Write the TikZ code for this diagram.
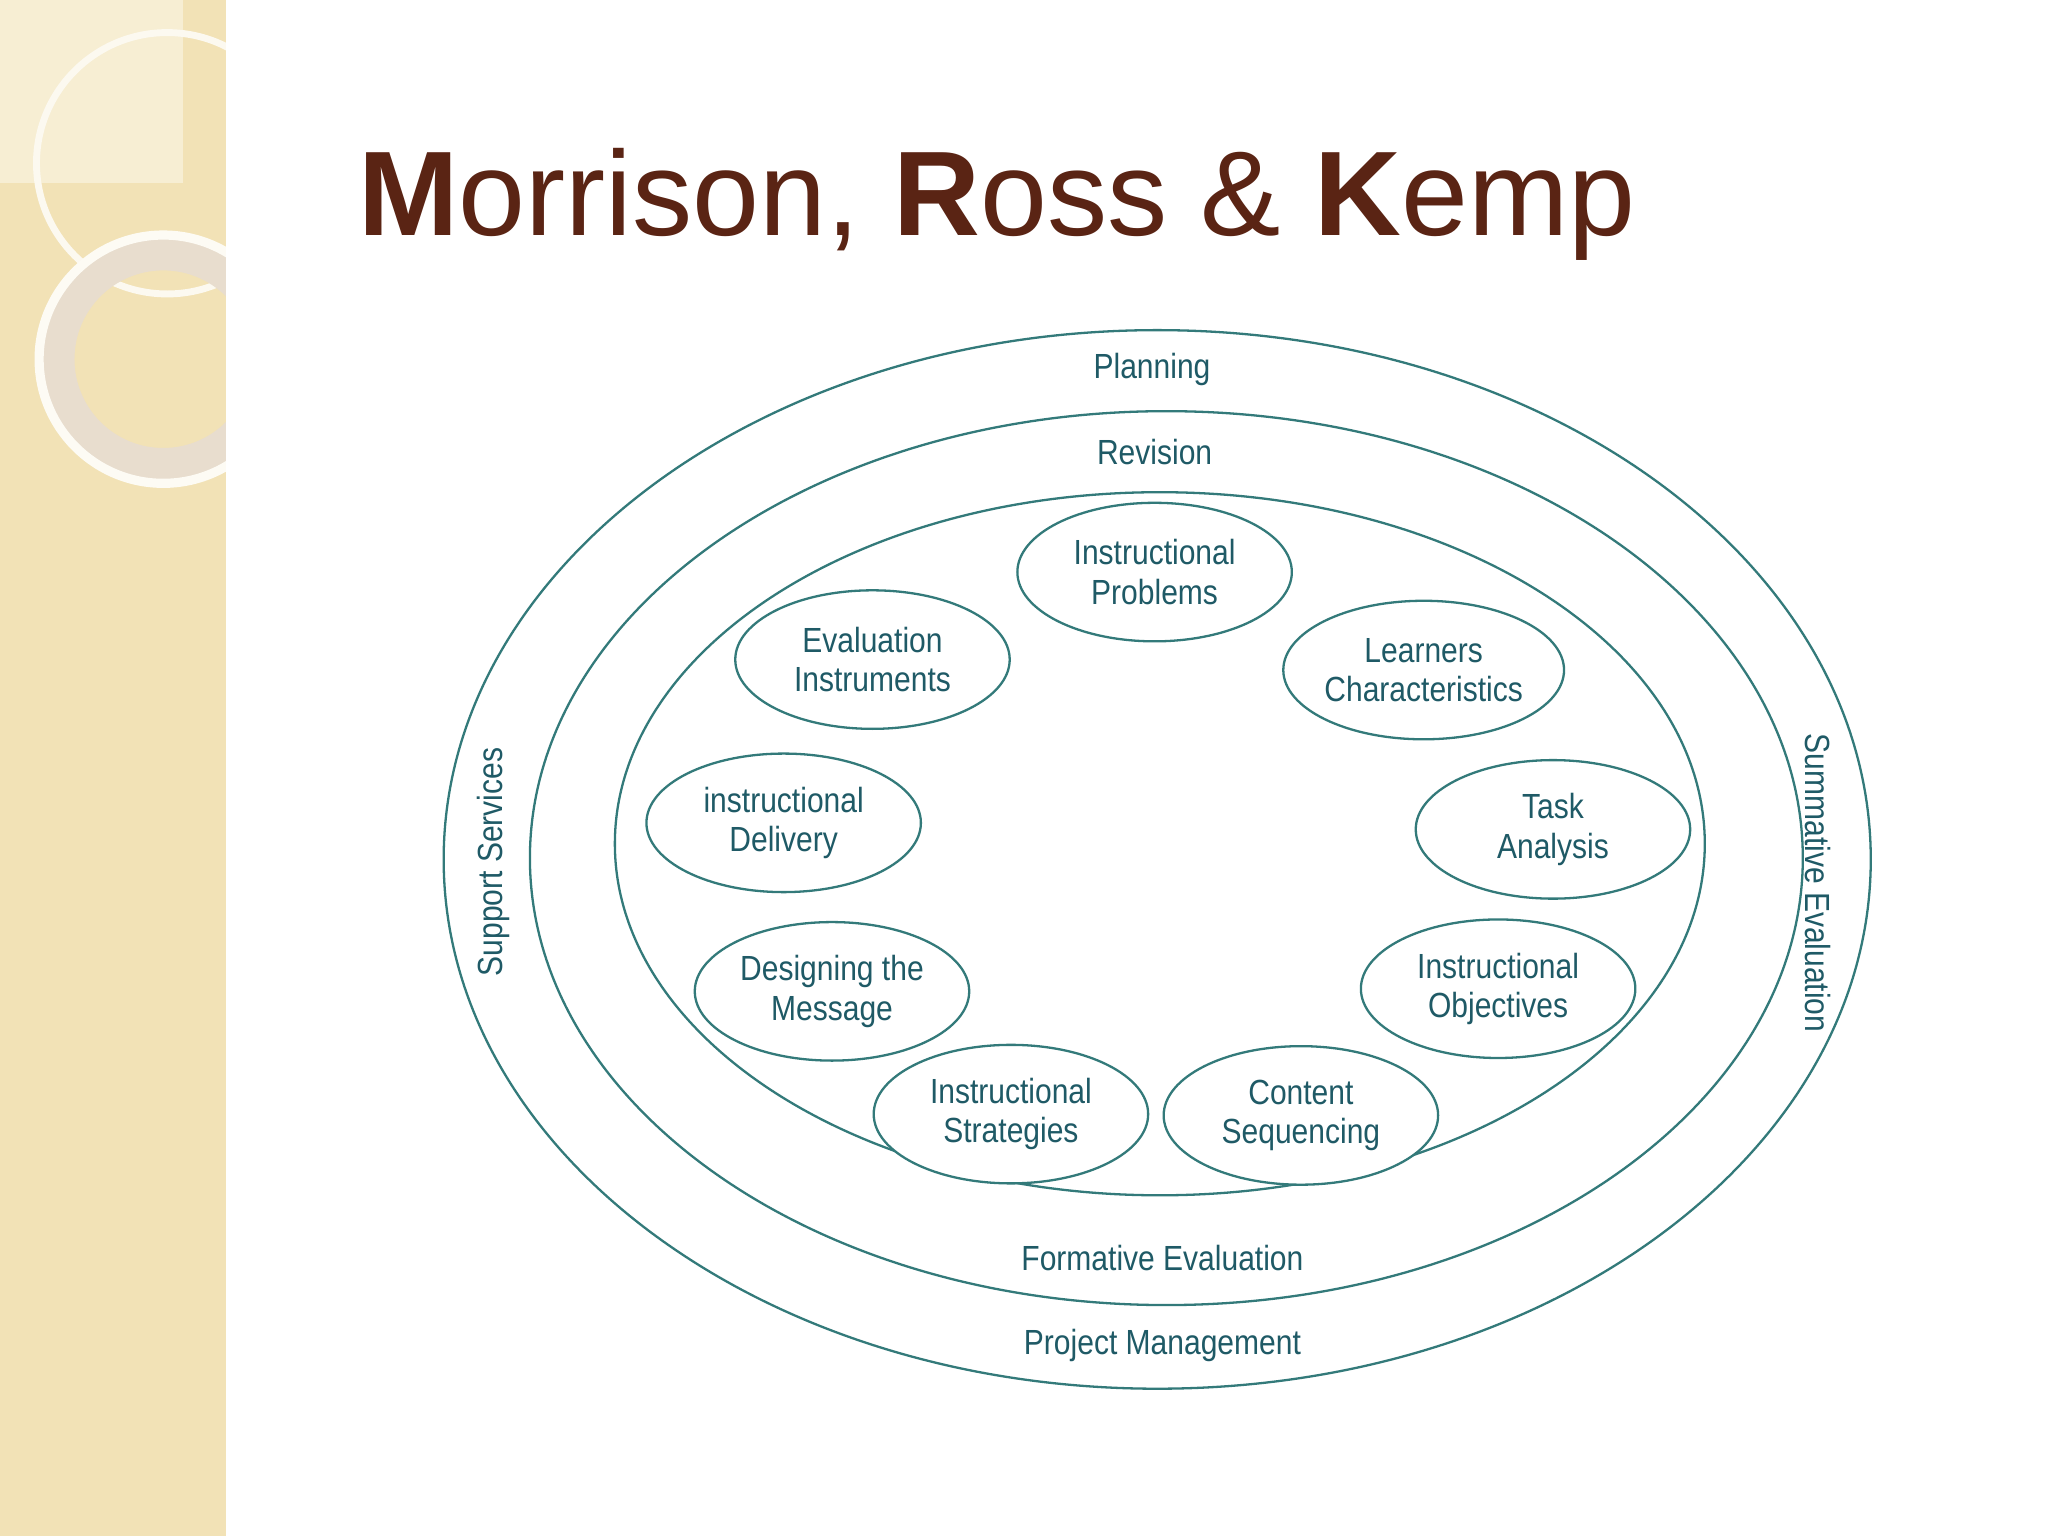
\documentclass[tikz,border=0pt]{standalone}
\usepackage{fontspec}
\setmainfont{Liberation Sans}
\newfontfamily\narrowfont[FakeStretch=0.86]{Liberation Sans}
\usetikzlibrary{shapes.geometric}
\begin{document}
\begin{tikzpicture}[x=0.01cm,y=-0.01cm,
  ring/.style={draw=teal!70!black!80, line width=0.5pt, inner sep=0pt},
  item/.style={ring, fill=white, ellipse, minimum width=2.1cm, minimum height=1.06cm, text=lbl, align=center, font=\narrowfont\fontsize{7.6}{8.6}\selectfont},
  lab/.style={text=lbl, font=\narrowfont\fontsize{7.6}{9.4}\selectfont}]
\definecolor{lbl}{HTML}{1F5A66}
\definecolor{beige}{HTML}{F2E2B6}
\definecolor{brown}{HTML}{5A2414}
\useasboundingbox (0,0) rectangle (1568,1176);
\fill[white] (0,0) rectangle (1568,1176);
\fill[beige] (0,0) rectangle (173,1176);
\fill[beige!60!white] (0,0) rectangle (140,140);
\begin{scope}
\clip (0,0) rectangle (173,1176);
\draw[white!80!beige, line width=1.5pt] (128,125) circle (1.0cm);
\draw[beige!70!brown!40!white, line width=8pt] (125,275) circle (0.82cm);
\draw[white!85!beige, line width=2pt] (125,275) circle (0.95cm);
\end{scope}
\node[anchor=base west, text=brown, font=\fontsize{26.2}{30}\selectfont] (title) at (262,180) {\textbf{M}orrison, \textbf{R}oss \& \textbf{K}emp};
\node[ring, ellipse, minimum width=10.92cm, minimum height=8.10cm] (outer) at (886,658) {};
\node[ring, ellipse, minimum width=9.74cm, minimum height=6.84cm] (mid) at (893,657) {};
\node[ring, ellipse, minimum width=8.34cm, minimum height=5.38cm] (inner) at (888,646) {};
\node[item] (ip) at (884,438) {Instructional\\Problems};
\node[item] (lc) at (1090,513) {Learners\\Characteristics};
\node[item] (ta) at (1189,635) {Task\\Analysis};
\node[item] (io) at (1147,757) {Instructional\\Objectives};
\node[item] (cs) at (996,854) {Content\\Sequencing};
\node[item] (is) at (774,853) {Instructional\\Strategies};
\node[item] (dm) at (637,759) {Designing the\\Message};
\node[item] (id) at (600,630) {instructional\\Delivery};
\node[item] (ei) at (668,505) {Evaluation\\Instruments};
\node[lab] (pl) at (882,283) {Planning};
\node[lab] (rv) at (884,346) {Revision};
\node[lab] (fe) at (890,963) {Formative Evaluation};
\node[lab] (pm) at (890,1030) {Project Management};
\node[lab, rotate=90] (ss) at (378,660) {Support Services};
\node[lab, rotate=-90] (se) at (1392,676) {Summative Evaluation};
\end{tikzpicture}
\end{document}
